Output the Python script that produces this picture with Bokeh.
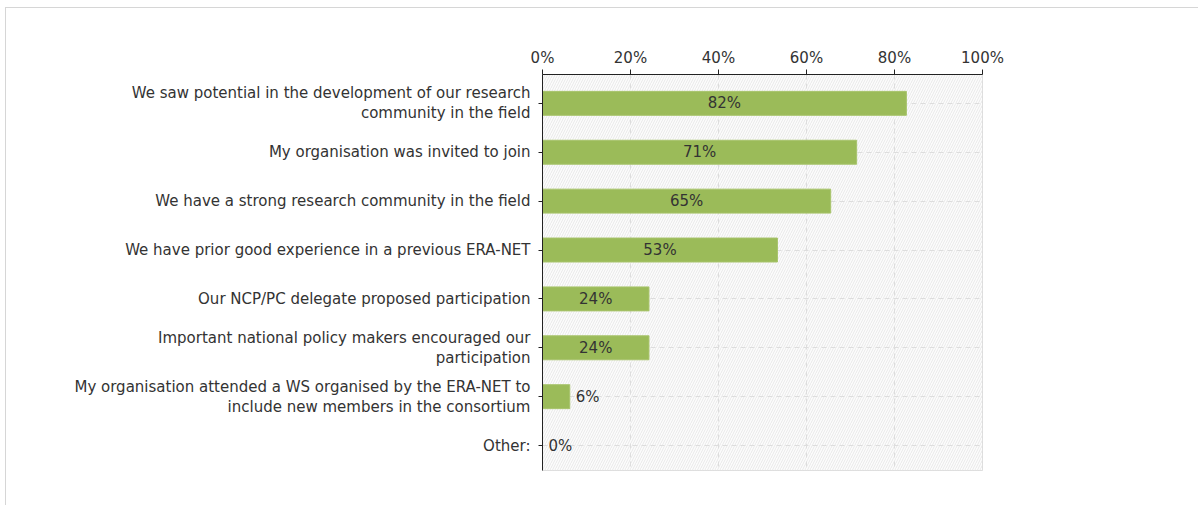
from bokeh.plotting import figure
from bokeh.models import (ColumnDataSource, FixedTicker, PrintfTickFormatter,
                          BoxAnnotation, Range1d)
from bokeh.core.properties import value
from bokeh.embed import file_html
from bokeh.resources import INLINE

categories = [
    "We saw potential in the development of our research\ncommunity in the field",
    "My organisation was invited to join",
    "We have a strong research community in the field",
    "We have prior good experience in a previous ERA-NET",
    "Our NCP/PC delegate proposed participation",
    "Important national policy makers encouraged our\nparticipation",
    "My organisation attended a WS organised by the ERA-NET to\ninclude new members in the consortium",
    "Other:",
]
values = [82.7, 71.4, 65.5, 53.4, 24.2, 24.2, 6.2, 0.0]
labels = ["82%", "71%", "65%", "53%", "24%", "24%", "6%", "0%"]
x_ticks = [0, 20, 40, 60, 80, 100]

FONT = "DejaVu Sans"
FS = "15px"
TXT = "#333333"
pos = list(range(len(categories)))
inside = [v > 15 for v in values]
src = ColumnDataSource(dict(
    y=pos,
    val=values,
    lab=labels,
    lx=[v / 2 if ins else v for v, ins in zip(values, inside)],
    align=["center" if ins else "left" for ins in inside],
    xoff=[0 if ins else 6 for ins in inside],
))

n = len(categories)
p = figure(width=1193, height=498, output_backend="svg", toolbar_location=None,
           y_range=Range1d(n - 0.49, -0.59), x_range=Range1d(0, 100),
           x_axis_location="above",
           min_border_left=536, min_border_right=217, min_border_top=66, min_border_bottom=36)

p.styles = {"border": "1px solid #d6d6d6", "border-right": "none", "border-bottom": "none",
            "margin-left": "5px", "margin-top": "7px"}
p.outline_line_color = "#dadada"
p.background_fill_color = "#ffffff"

bg = BoxAnnotation(fill_color="#f8f8f8", hatch_pattern="/", hatch_color="#e9e9e9",
                   hatch_scale=5, hatch_weight=1, line_color=None, level="image")
p.add_layout(bg)

p.hbar(y="y", right="val", left=0, height=0.49, source=src,
       fill_color="#9bbb59", line_color="#a8c46c", line_width=1)

p.text(x="lx", y="y", text="lab", source=src, text_align="align", x_offset="xoff",
       text_baseline="middle", text_font=value(FONT), text_font_size=FS, text_color=TXT)

xa = p.xaxis[0]
xa.ticker = FixedTicker(ticks=x_ticks)
xa.formatter = PrintfTickFormatter(format="%d%%")
xa.major_label_text_font = FONT
xa.major_label_text_font_size = FS
xa.major_label_text_color = TXT
xa.axis_line_color = "#222222"
xa.major_tick_line_color = "#222222"
xa.major_tick_in = 0
xa.major_tick_out = 5
xa.minor_tick_line_color = None
xa.major_label_standoff = 3

ya = p.yaxis[0]
ya.ticker = FixedTicker(ticks=pos)
ya.major_label_overrides = {i: c for i, c in zip(pos, categories)}
ya.major_label_text_font = FONT
ya.major_label_text_font_size = FS
ya.major_label_text_color = TXT
ya.major_label_text_line_height = 1.1
ya.axis_line_color = "#222222"
ya.axis_line_width = 1
ya.major_tick_line_color = "#222222"
ya.major_tick_in = 0
ya.major_tick_out = 4
ya.minor_tick_line_color = None
ya.major_label_standoff = 8

p.xgrid.grid_line_color = "#dddddd"
p.xgrid.grid_line_dash = "5 4"
p.ygrid.grid_line_color = "#dddddd"
p.ygrid.grid_line_dash = "5 4"

open("out.html", "w").write(file_html(p, INLINE))
